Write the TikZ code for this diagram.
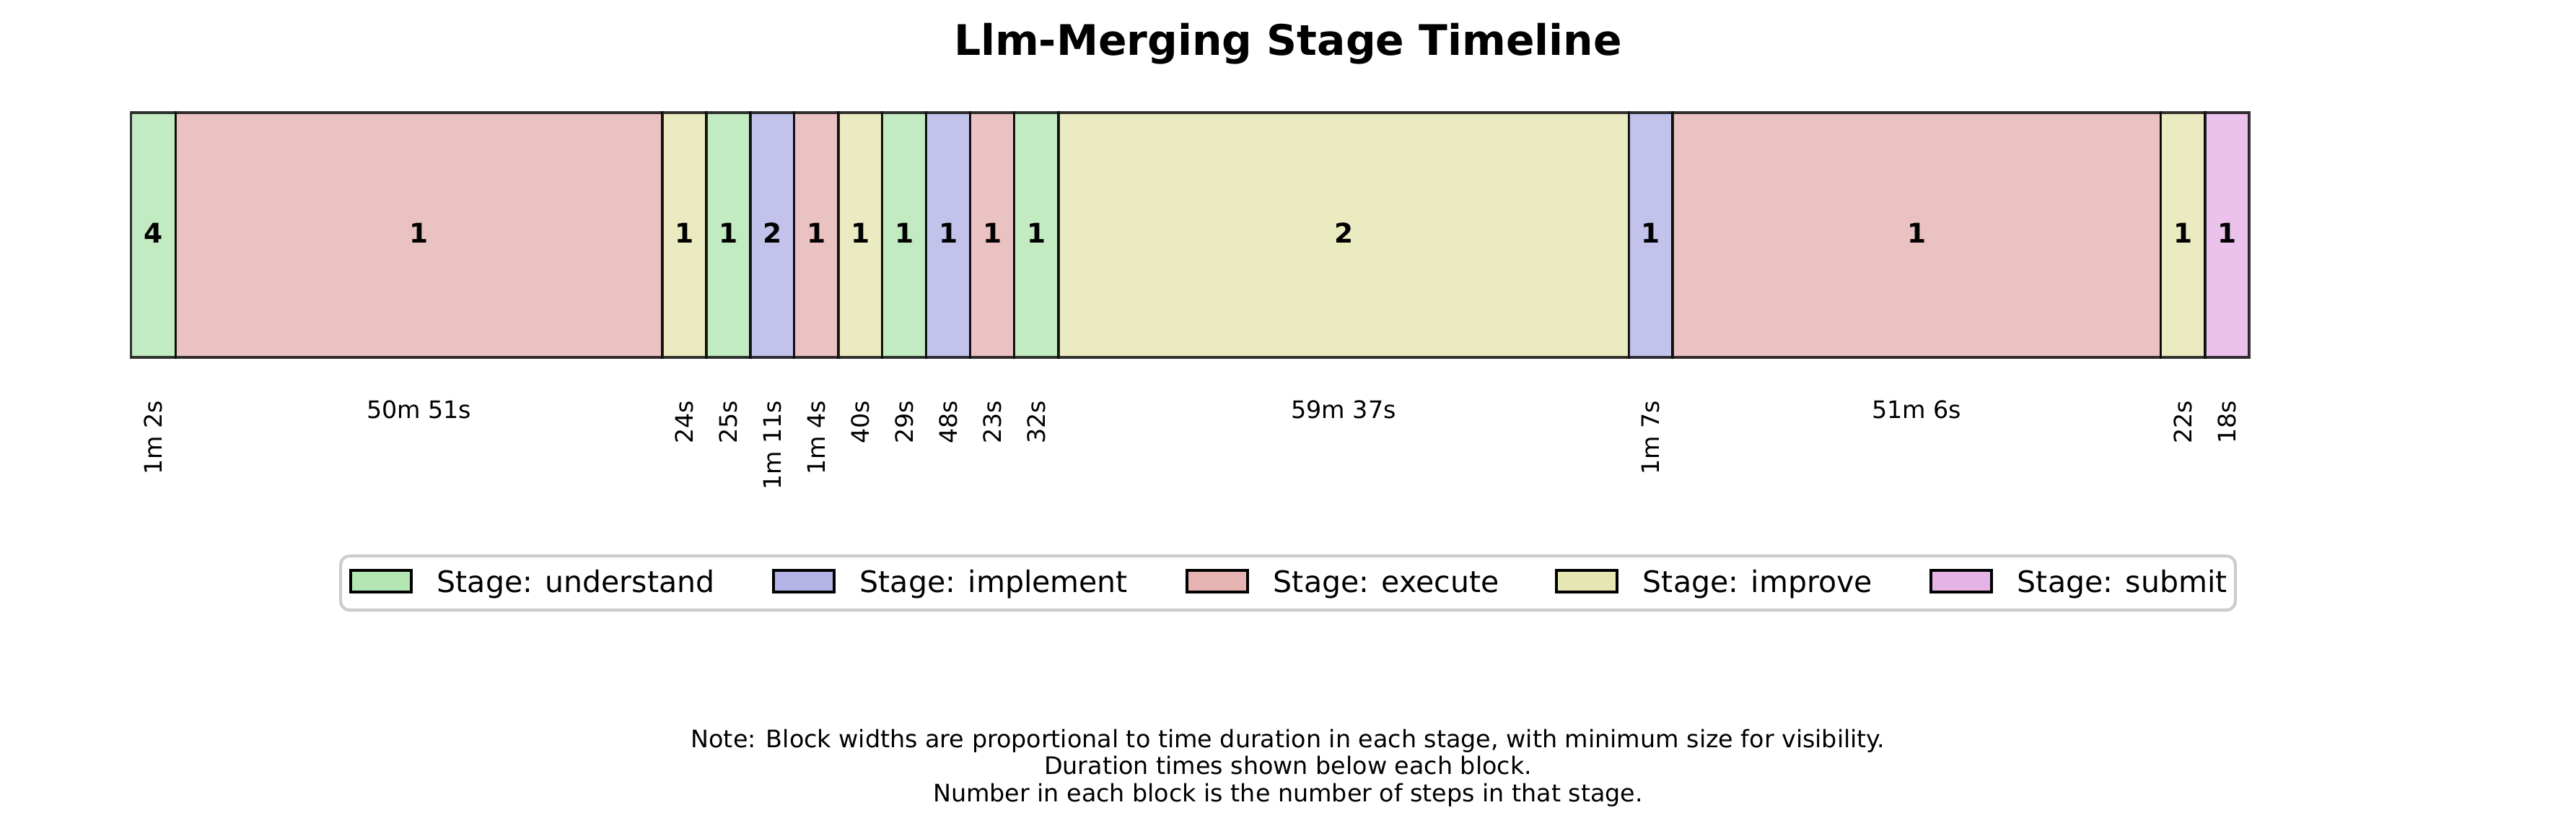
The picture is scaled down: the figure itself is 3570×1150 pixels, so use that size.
\documentclass[tikz,border=0pt]{standalone}
\usepackage{fontspec}
\setmainfont{DejaVu Sans}
\definecolor{cund}{HTML}{B3E6B3}
\definecolor{cimp}{HTML}{B3B3E6}
\definecolor{cexe}{HTML}{E6B3B3}
\definecolor{cimv}{HTML}{E6E6B3}
\definecolor{csub}{HTML}{E6B3E6}
\definecolor{framegray}{HTML}{CCCCCC}
\begin{document}
\begin{tikzpicture}[x=0.24pt,y=-0.24pt,
  blockbox/.style={draw=black, draw opacity=0.8, fill opacity=0.8, line width=0.8pt},
  numlabel/.style={font=\fontsize{9}{11}\selectfont\bfseries, inner sep=0pt, anchor=base},
  durh/.style={font=\fontsize{8}{10}\selectfont, inner sep=0pt, anchor=base},
  durv/.style={font=\fontsize{8}{10}\selectfont, inner sep=0pt, rotate=90, anchor=east},
  legpatch/.style={draw=black, line width=0.9pt},
  legtext/.style={font=\fontsize{9.85}{12}\selectfont, inner sep=0pt, anchor=base west},
  notetext/.style={font=\fontsize{8}{10}\selectfont, inner sep=0pt, anchor=base}]
\useasboundingbox (0,0) rectangle (3570,1150);
\node[font=\fontsize{14}{17}\selectfont\bfseries, inner sep=0pt, anchor=base] (title) at (1785,76) {Llm-Merging Stage Timeline};
\foreach \i/\l/\r/\c/\n in {
  1/181.5/243.5/cund/4,
  2/243.5/918/cexe/1,
  3/918/979/cimv/1,
  4/979/1040/cund/1,
  5/1040/1100.6/cimp/2,
  6/1100.6/1161.9/cexe/1,
  7/1161.9/1222.7/cimv/1,
  8/1222.7/1283.6/cund/1,
  9/1283.6/1344.8/cimp/1,
  10/1344.8/1405.7/cexe/1,
  11/1405.7/1466.9/cund/1,
  12/1466.9/2257.4/cimv/2,
  13/2257.4/2318/cimp/1,
  14/2318/2994.6/cexe/1,
  15/2994.6/3055.9/cimv/1,
  16/3055.9/3117.1/csub/1}{
  \path[blockbox, fill=\c] (\l,156) rectangle (\r,495);
  \node[numlabel] (n\i) at ({(\l+\r)/2},336) {\n};
}
\foreach \i/\l/\r/\d in {2/243.5/918/50m 51s, 12/1466.9/2257.4/59m 37s, 14/2318/2994.6/51m 6s}{
  \node[durh] (d\i) at ({(\l+\r)/2},579) {\d};
}
\foreach \i/\l/\r/\d in {1/181.5/243.5/1m 2s, 3/918/979/24s, 4/979/1040/25s, 5/1040/1100.6/1m 11s,
  6/1100.6/1161.9/1m 4s, 7/1161.9/1222.7/40s, 8/1222.7/1283.6/29s, 9/1283.6/1344.8/48s,
  10/1344.8/1405.7/23s, 11/1405.7/1466.9/32s, 13/2257.4/2318/1m 7s, 15/2994.6/3055.9/22s,
  16/3055.9/3117.1/18s}{
  \node[durv] (d\i) at ({(\l+\r)/2},554) {\d};
}
% legend
\draw[framegray, line width=1pt, rounded corners=3pt, fill=white] (472,770) rectangle (3098,845);
\foreach \i/\x/\c/\t in {1/486/cund/understand, 2/1072/cimp/implement, 3/1645/cexe/execute, 4/2157/cimv/improve, 5/2676/csub/submit}{
  \draw[legpatch, fill=\c] (\x,790) rectangle ({\x+84},820);
  \node[legtext] (l\i) at ({\x+119},820) {Stage: \t};
}
% note
\node[notetext] (note1) at (1785,1035) {Note: Block widths are proportional to time duration in each stage, with minimum size for visibility.};
\node[notetext] (note2) at (1785,1072) {Duration times shown below each block.};
\node[notetext] (note3) at (1785,1110) {Number in each block is the number of steps in that stage.};
\end{tikzpicture}
\end{document}
